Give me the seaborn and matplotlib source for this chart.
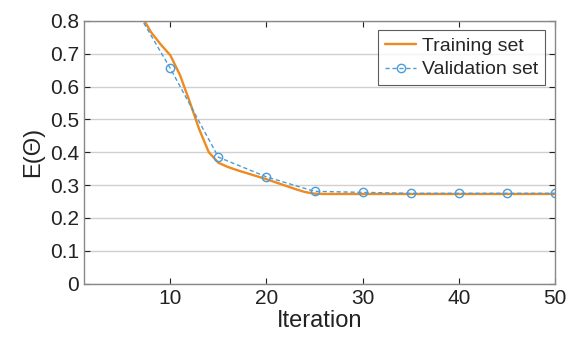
import numpy as np
import pandas as pd
import seaborn as sns
import matplotlib.pyplot as plt

# ===============================
# Data
# ===============================
train_iter = list(range(1, 51))
train_err = [1.60, 1.42, 1.26, 1.12, 0.99, 0.89, 0.815, 0.765, 0.728, 0.695,
             0.635, 0.555, 0.47, 0.40, 0.368, 0.355, 0.345, 0.336, 0.327, 0.318,
             0.308, 0.298, 0.288, 0.279, 0.274, 0.273, 0.273, 0.273, 0.273, 0.273,
             0.273, 0.273, 0.273, 0.273, 0.273, 0.273, 0.273, 0.273, 0.273, 0.273,
             0.273, 0.273, 0.273, 0.273, 0.273, 0.273, 0.273, 0.273, 0.273, 0.273]

val_iter = [5, 10, 15, 20, 25, 30, 35, 40, 45, 50]
val_err = [0.905, 0.655, 0.385, 0.325, 0.281, 0.278, 0.275, 0.275, 0.275, 0.275]

xticks = [10, 20, 30, 40, 50]
yticks = [0, 0.1, 0.2, 0.3, 0.4, 0.5, 0.6, 0.7, 0.8]

train_df = pd.DataFrame({"Iteration": train_iter, "E": train_err})
val_df = pd.DataFrame({"Iteration": val_iter, "E": val_err})

# ===============================
# Plot
# ===============================
sns.set_style("white")
plt.rcParams["font.family"] = ["Liberation Sans", "DejaVu Sans"]

fig, ax = plt.subplots(figsize=(5.78, 3.46), dpi=100)

sns.lineplot(data=train_df, x="Iteration", y="E", ax=ax, color="#EE8A1E",
             linewidth=1.7, label="Training set")
sns.lineplot(data=val_df, x="Iteration", y="E", ax=ax, color="#4A9CDB",
             linewidth=1, linestyle=(0, (3, 2)), marker="o", markersize=6,
             markerfacecolor="none", markeredgecolor="#4A9CDB",
             markeredgewidth=1, label="Validation set")

ax.set_xlim(1, 50)
ax.set_ylim(0, 0.8)
ax.set_xticks(xticks)
ax.set_yticks(yticks)
ax.set_yticklabels(["0", "0.1", "0.2", "0.3", "0.4", "0.5", "0.6", "0.7", "0.8"])
ax.yaxis.grid(True, color="#d0d0d0", linewidth=1)
ax.set_axisbelow(True)

ax.tick_params(direction="in", length=4, labelsize=15, colors="#222222",
               top=True, right=True, bottom=True, left=True)
for s in ax.spines.values():
    s.set_color("#888888")
    s.set_linewidth(1)

ax.set_xlabel("Iteration", fontsize=17, color="#222222", labelpad=2)
ax.set_ylabel("E(Θ)", fontsize=17, color="#222222", labelpad=4)

leg = ax.legend(loc="upper right", fontsize=14, frameon=True, fancybox=False,
                handlelength=1.6, handletextpad=0.3, borderpad=0.35,
                labelspacing=0.3, borderaxespad=0.5)
leg.get_frame().set_edgecolor("#333333")
leg.get_frame().set_linewidth(0.8)

plt.subplots_adjust(left=0.145, right=0.96, top=0.94, bottom=0.18)
plt.savefig("out.png", dpi=100)
